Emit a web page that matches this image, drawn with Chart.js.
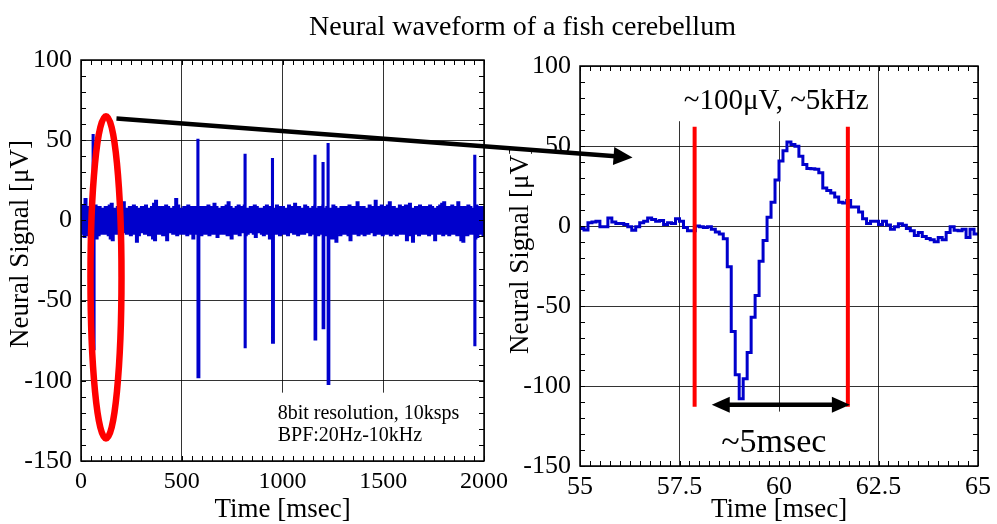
<!DOCTYPE html>
<html><head><meta charset="utf-8">
<script src="https://cdn.jsdelivr.net/npm/chart.js@4"></script>
<style>
html,body{margin:0;padding:0;background:#fff;}
#wrap{position:relative;width:997px;height:524px;overflow:hidden;}
canvas{position:absolute;left:0;top:0;}
</style></head><body>
<div id="wrap"><canvas id="c1" width="997" height="524"></canvas><canvas id="c2" width="997" height="524"></canvas></div>
<script>
// ---------------- data ----------------
const titleText = 'Neural waveform of a fish cerebellum';
const xTitleText = 'Time [msec]';
const yTitleText = 'Neural Signal [μV]';
const leftXTicks = [0, 500, 1000, 1500, 2000];
const rightXTicks = [55, 57.5, 60, 62.5, 65];
const yTicks = [-150, -100, -50, 0, 50, 100];

// full record: background noise, upper / lower excursions every 10 msec
const noiseHigh = [
 7,9,13,8,7,10,8,9,7,8, 7,6,8,7,9,10,7,6,8,7, 8,11,7,6,8,7,9,8,6,7, 8,7,9,6,7,8,10,12,8,7,
 8,7,9,8,7,6,8,13,9,7, 7,8,6,9,7,8,8,7,9,8, 6,8,7,9,8,7,10,8,6,7, 8,7,9,11,8,7,6,8,9,7,
 8,9,7,6,8,7,9,8,7,6, 7,8,9,7,8,6,7,9,8,7, 8,7,6,9,8,7,10,7,8,6, 7,9,8,7,6,8,9,7,8,7,
 9,7,8,6,7,9,8,7,6,8, 7,8,6,9,7,8,7,11,8,7, 8,6,7,9,8,7,12,8,7,9, 7,8,9,11,7,8,6,7,9,8,
 7,9,8,10,7,6,8,7,9,8, 6,8,7,9,8,7,6,8,9,10, 11,7,8,6,9,8,7,11,8,7, 8,7,9,8,7,6,9,8,7,8
];
const noiseLow = [
 -8,-10,-7,-9,-6,-8,-7,-11,-9,-8, -7,-8,-6,-9,-11,-12,-7,-8,-6,-9, -7,-6,-8,-7,-9,-7,-8,-13,-9,-7, -6,-8,-7,-9,-8,-11,-12,-7,-8,-6,
 -9,-8,-12,-7,-6,-8,-7,-9,-8,-7, -8,-7,-9,-6,-8,-11,-7,-8,-6,-9, -7,-8,-6,-9,-7,-8,-7,-10,-8,-6, -8,-7,-9,-8,-11,-7,-8,-6,-9,-7,
 -7,-9,-8,-6,-7,-8,-10,-7,-6,-8, -9,-7,-8,-11,-7,-6,-8,-7,-9,-8, -7,-8,-9,-7,-6,-8,-7,-9,-8,-7, -8,-7,-6,-9,-8,-7,-8,-9,-7,-8,
 -7,-9,-8,-7,-11,-8,-13,-7,-9,-8, -7,-8,-9,-12,-7,-8,-6,-9,-7,-8, -9,-7,-8,-7,-6,-9,-8,-7,-8,-9, -7,-8,-6,-9,-7,-8,-9,-7,-8,-7,
 -8,-12,-9,-7,-13,-8,-7,-9,-6,-8, -7,-8,-9,-7,-8,-12,-7,-8,-6,-9, -8,-7,-9,-8,-7,-8,-9,-7,-12,-13, -7,-9,-8,-7,-8,-11,-10,-8,-7,-9
];
const noiseStep = 10;          // msec between upper excursions
// spikes in the full record
const spikeTimes = [60, 580, 814, 950, 1161, 1201, 1226, 1954];
const spikeUp    = [53, 50, 40.6, 38, 40, 35.4, 47.3, 40];
const spikeDown  = [-80, -97.5, -78.7, -76, -74, -67, -101.7, -77.5];

// zoomed waveform, 10 ksps samples from 55.0 msec
const zoomStart = 55;
const zoomStep = 0.1;
const zoomValues = [
 -1.5,-2.5,2,2.5,3,-0.5,-0.5,5,2.5,1.5,
 1.5,1,-0.5,-2.7,-0.5,2,3,5,4,3,
 3.5,1,2,1.5,4.5,3,-1,-3,-3,0,
 -0.5,-1,-0.5,-2,-3.7,-5,-8,-25.5,-66,-93,
 -108,-95.5,-79,-57,-43.5,-22,-9,5.5,14.8,28.8,
 40.7,47,52.5,51,49.8,43.6,38.5,36,35.8,35.4,
 33.3,23.7,22.2,20.6,18.1,14.8,14.4,16,11.9,11.9,
 8.8,4.5,1.6,3,3,1,3,0.6,-2,-0.4,
 1.4,0.4,-1.6,-3,-6,-4,-6.6,-7.8,-8.6,-9.9,
 -7.2,-8.6,-4,-0.4,-2.7,-3,-2,-7.2,-2,-5,
 -5.8
];
const spikeEdges = [57.88, 61.73];   // red markers (msec)
const noteLines = ['8bit resolution, 10ksps', 'BPF:20Hz-10kHz'];
const peakNote = '~100μV, ~5kHz';
const widthNote = '~5msec';

// ---------------- styles ----------------
const FONT = '"Liberation Serif", "Times New Roman", Times, serif';
const BLUE = '#0000cc';
const RED = '#ff0000';
const GRID = 'rgba(0,0,0,0.8)';
Chart.defaults.font.family = FONT;
Chart.defaults.color = '#000';

// ---------------- build series ----------------
const leftPoints = [];
noiseHigh.forEach((h, i) => {
  leftPoints.push({x: i * noiseStep, y: h});
  leftPoints.push({x: i * noiseStep + noiseStep / 2, y: noiseLow[i]});
});
leftPoints.push({x: leftXTicks[leftXTicks.length - 1], y: noiseLow[noiseLow.length - 1]});
spikeTimes.forEach((t, i) => {
  leftPoints.push({x: t + 0.01, y: spikeUp[i]});
  leftPoints.push({x: t + 0.5, y: spikeDown[i]});
});
leftPoints.sort((a, b) => a.x - b.x);
const rightPoints = zoomValues.map((v, k) => ({x: zoomStart + k * zoomStep, y: v}));

// ---------------- helpers ----------------
function tickSetter(arr) { return s => { s.ticks = arr.map(v => ({value: v})); }; }
function fillArrowHead(ctx, tipX, tipY, ang, len, half) {
  ctx.beginPath();
  ctx.moveTo(tipX, tipY);
  ctx.lineTo(tipX - len * Math.cos(ang) + half * Math.sin(ang), tipY - len * Math.sin(ang) - half * Math.cos(ang));
  ctx.lineTo(tipX - len * Math.cos(ang) - half * Math.sin(ang), tipY - len * Math.sin(ang) + half * Math.cos(ang));
  ctx.closePath();
  ctx.fill();
}
function drawArrow(ctx, x1, y1, x2, y2, lw, len, half, both) {
  const ang = Math.atan2(y2 - y1, x2 - x1);
  const sx = both ? x1 + (len - 2) * Math.cos(ang) : x1;
  const sy = both ? y1 + (len - 2) * Math.sin(ang) : y1;
  const ex = x2 - (len - 2) * Math.cos(ang), ey = y2 - (len - 2) * Math.sin(ang);
  ctx.save();
  ctx.strokeStyle = '#000'; ctx.fillStyle = '#000'; ctx.lineWidth = lw; ctx.lineCap = 'butt';
  ctx.beginPath(); ctx.moveTo(sx, sy); ctx.lineTo(ex, ey); ctx.stroke();
  fillArrowHead(ctx, x2, y2, ang, len, half);
  if (both) fillArrowHead(ctx, x1, y1, ang + Math.PI, len, half);
  ctx.restore();
}
function axisTitles(chart, o) {
  const {ctx, chartArea: a} = chart;
  ctx.save();
  ctx.fillStyle = '#000';
  ctx.font = '27px ' + FONT;
  ctx.textAlign = 'center'; ctx.textBaseline = 'alphabetic';
  ctx.fillText(xTitleText, (a.left + a.right) / 2, o.xBase);
  ctx.translate(o.yBaseX, o.yMid);
  ctx.rotate(-Math.PI / 2);
  ctx.fillText(yTitleText, 0, 0);
  ctx.restore();
}

const framePlugin = {
  id: 'frame',
  afterDraw(chart, args, opts) {
    const {ctx, chartArea: a, scales: {x, y}} = chart;
    ctx.save();
    ctx.strokeStyle = '#000'; ctx.lineWidth = 1;
    ctx.beginPath();
    const nx = Math.round((x.max - x.min) / opts.xMinor);
    for (let i = 0; i <= nx; i++) {
      const px = Math.round(x.getPixelForValue(x.min + i * opts.xMinor)) + 0.5;
      ctx.moveTo(px, a.bottom); ctx.lineTo(px, a.bottom - opts.len);
      ctx.moveTo(px, a.top); ctx.lineTo(px, a.top + opts.len);
    }
    const ny = Math.round((y.max - y.min) / opts.yMinor);
    for (let i = 0; i <= ny; i++) {
      const py = Math.round(y.getPixelForValue(y.min + i * opts.yMinor)) + 0.5;
      ctx.moveTo(a.left, py); ctx.lineTo(a.left + opts.len, py);
      ctx.moveTo(a.right, py); ctx.lineTo(a.right - opts.len, py);
    }
    ctx.stroke();
    ctx.lineWidth = 1.5;
    ctx.strokeRect(a.left, a.top, a.right - a.left, a.bottom - a.top);
    ctx.restore();
    if (opts.titles) axisTitles(chart, opts.titles);
  }
};

function baseOptions(o) {
  return {
    responsive: false, animation: false, events: [],
    layout: {padding: o.padding},
    plugins: {legend: {display: false}, tooltip: {enabled: false}, title: {display: false},
              frame: o.frame},
    scales: {
      x: {type: 'linear', min: o.xMin, max: o.xMax,
          afterBuildTicks: tickSetter(o.xTicks), afterFit: s => { s.height = 40; },
          grid: {color: GRID, lineWidth: 1, drawTicks: false}, border: {display: false},
          ticks: {font: {family: FONT, size: o.xFont}, color: '#000', padding: o.xPad,
                  maxRotation: 0, autoSkip: false, callback: v => String(v)}},
      y: {type: 'linear', min: -150, max: 100,
          afterBuildTicks: tickSetter(yTicks), afterFit: s => { s.width = o.yWidth; },
          grid: {color: GRID, lineWidth: 1, drawTicks: false}, border: {display: false},
          ticks: {font: {family: FONT, size: o.yFont}, color: '#000', padding: o.yPad,
                  autoSkip: false, callback: v => String(v)}}
    }
  };
}

// ---------------- left chart ----------------
const leftAnnot = {
  id: 'leftAnnot',
  afterDatasetsDraw(chart) {
    const {ctx, scales: {x, y}, chartArea: a} = chart;
    ctx.save();
    // note box
    ctx.font = '20px ' + FONT;
    const lx = x.getPixelForValue(976);
    const w = Math.max(...noteLines.map(s => ctx.measureText(s).width));
    const b1 = y.getPixelForValue(-123.6), b2 = y.getPixelForValue(-137.5);
    ctx.fillStyle = '#fff';
    ctx.fillRect(lx - 6, b1 - 26, w + 14, a.bottom - (b1 - 26) - 1);
    ctx.fillStyle = '#000'; ctx.textAlign = 'left'; ctx.textBaseline = 'alphabetic';
    ctx.fillText(noteLines[0], lx, b1);
    ctx.fillText(noteLines[1], lx, b2);
    // ellipse around the first spike
    const cx = x.getPixelForValue(124), cy = y.getPixelForValue(-35.5);
    const rx = x.getPixelForValue(124 + 77) - cx, ry = cy - y.getPixelForValue(-35.5 + 100.5);
    ctx.strokeStyle = RED; ctx.lineWidth = 6.5;
    ctx.beginPath(); ctx.ellipse(cx, cy, rx, ry, 0, 0, Math.PI * 2); ctx.stroke();
    // main title
    ctx.fillStyle = '#000'; ctx.font = '28px ' + FONT; ctx.textAlign = 'center';
    ctx.fillText(titleText, 522.5, 35);
    ctx.restore();
  }
};

const chart1 = new Chart(document.getElementById('c1'), {
  type: 'line',
  data: {datasets: [{data: leftPoints, borderColor: BLUE, borderWidth: 3, pointRadius: 0,
                     stepped: true, fill: false, tension: 0}]},
  options: baseOptions({padding: {left: 0, right: 513, top: 60, bottom: 23},
    xMin: 0, xMax: 2000, xTicks: leftXTicks, xFont: 24, xPad: 6, yWidth: 81, yFont: 26, yPad: 9,
    frame: {xMinor: 50, yMinor: 10, len: 5, titles: {xBase: 517, yBaseX: 28, yMid: 244}}}),
  plugins: [leftAnnot, framePlugin]
});

// ---------------- right chart ----------------
const rightAnnot = {
  id: 'rightAnnot',
  afterDatasetsDraw(chart) {
    const {ctx, scales: {x, y}, chartArea: a} = chart;
    ctx.save();
    // peak annotation
    ctx.font = '29px ' + FONT;
    const pcx = x.getPixelForValue(59.93), pb = y.getPixelForValue(73);
    const pw = ctx.measureText(peakNote).width;
    ctx.fillStyle = '#fff';
    ctx.fillRect(pcx - pw / 2 - 8, a.top + 1, pw + 16, pb + 12 - a.top - 1);
    ctx.fillStyle = '#000'; ctx.textAlign = 'center'; ctx.textBaseline = 'alphabetic';
    ctx.fillText(peakNote, pcx, pb);
    // width annotation
    ctx.font = '34px ' + FONT;
    const wcx = x.getPixelForValue(59.87), wb = y.getPixelForValue(-141);
    const ww = ctx.measureText(widthNote).width;
    ctx.fillStyle = '#fff';
    ctx.fillRect(wcx - ww / 2 - 6, wb - 40, ww + 12, a.bottom - (wb - 40) - 1);
    ctx.fillStyle = '#000';
    ctx.fillText(widthNote, wcx, wb);
    // red markers
    ctx.strokeStyle = RED; ctx.lineWidth = 4;
    ctx.beginPath();
    spikeEdges.forEach(t => {
      const px = x.getPixelForValue(t);
      ctx.moveTo(px, y.getPixelForValue(62)); ctx.lineTo(px, y.getPixelForValue(-113));
    });
    ctx.stroke();
    // double arrow
    const ay = y.getPixelForValue(-111.7);
    drawArrow(ctx, x.getPixelForValue(58.31), ay, x.getPixelForValue(61.78), ay, 4.5, 18, 8, true);
    ctx.restore();
  }
};
const bigArrow = {
  id: 'bigArrow',
  afterDraw(chart) {
    const {ctx, scales: {x, y}} = chart;
    const lx = chart1.scales.x.getPixelForValue(176), ly = chart1.scales.y.getPixelForValue(63.5);
    drawArrow(ctx, lx, ly, x.getPixelForValue(56.32), y.getPixelForValue(42.8), 4.5, 19, 9, false);
  }
};

new Chart(document.getElementById('c2'), {
  type: 'line',
  data: {datasets: [{data: rightPoints, borderColor: BLUE, borderWidth: 3, pointRadius: 0,
                     stepped: true, fill: false, tension: 0}]},
  options: baseOptions({padding: {left: 500, right: 14, top: 66, bottom: 18},
    xMin: 55, xMax: 65, xTicks: rightXTicks, xFont: 26, xPad: 6, yWidth: 80, yFont: 26, yPad: 9,
    frame: {xMinor: 0.25, yMinor: 10, len: 5, titles: {xBase: 517, yBaseX: 527.5, yMid: 250}}}),
  plugins: [rightAnnot, framePlugin, bigArrow]
});
</script>
</body></html>
